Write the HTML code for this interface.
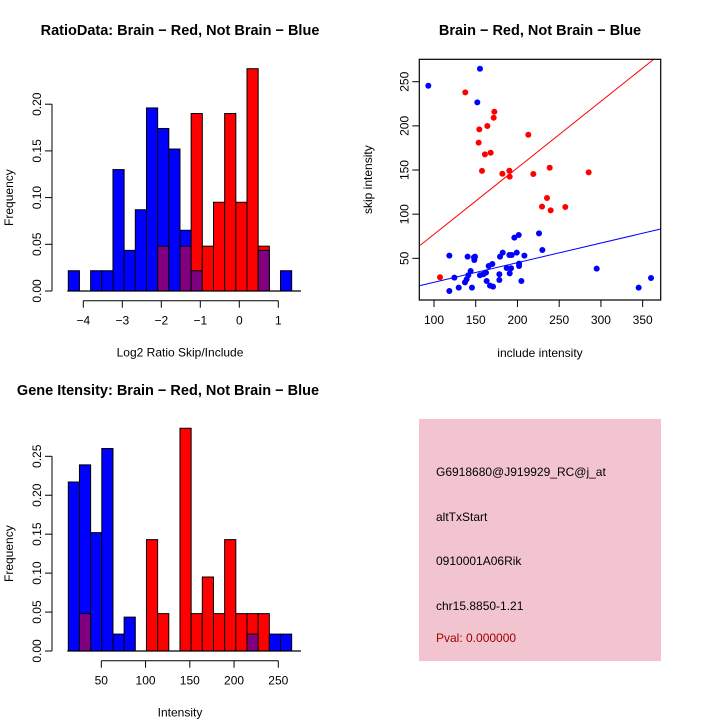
<!DOCTYPE html>
<html><head><meta charset="utf-8"><style>
html,body{margin:0;padding:0;background:#fff;}
svg{display:block;font-family:"Liberation Sans",sans-serif;}
</style></head><body>
<svg id="chart" width="720" height="720" viewBox="0 0 720 720" xmlns="http://www.w3.org/2000/svg">
<rect x="0" y="0" width="720" height="720" fill="#fff"/>
<g id="p1"></g>
<g id="p2"></g>
<g id="p3"></g>
<g id="p4">
<rect x="419" y="419" width="242" height="242" fill="#f2c4cf"/>
<text x="436" y="476" font-size="12">G6918680@J919929_RC@j_at</text>
<text x="436" y="521" font-size="12">altTxStart</text>
<text x="436" y="565" font-size="12">0910001A06Rik</text>
<text x="436" y="610" font-size="12">chr15.8850-1.21</text>
<text x="436" y="642" font-size="12" fill="#a00000">Pval: 0.000000</text>
</g>
</svg>
<script>
// Histogram 1 data
const h1Blue=[0.0217,0,0.0217,0.0217,0.13,0.0435,0.087,0.196,0.174,0.152,0.065,0.0217,0,0,0,0,0,0.0435,0,0.0217];
const h1Red=[0,0,0,0,0,0,0,0,0.048,0,0.048,0.19,0.048,0.095,0.19,0.095,0.238,0.048,0,0];
const h1XTicks=[-4,-3,-2,-1,0,1];
const h1YTicks=["0.00","0.05","0.10","0.15","0.20"];
// Histogram 2 data
const h2Blue=[0.217,0.239,0.152,0.26,0.0217,0.0435,0,0,0,0,0,0,0,0,0,0,0.0217,0,0.0217,0.0217];
const h2Red=[0,0.048,0,0,0,0,0,0.143,0.048,0,0.286,0.048,0.095,0.048,0.143,0.048,0.048,0.048,0,0];
const h2XTicks=[50,100,150,200,250];
const h2YTicks=["0.00","0.05","0.10","0.15","0.20","0.25"];
// Scatter data
const redX=[107.2,137.5,154.3,153.5,157.5,161,163.9,167.9,171.5,172.3,181.9,190.3,190.7,213,219,229.4,235.4,238.6,239.8,257.3,285.3];
const redY=[28.5,237.9,196,181,149,167.7,199.8,169.6,209.2,216,145.8,149.2,142.5,190,145.5,108.5,118.3,152.6,104.3,108.1,147.4];
const blueX=[93.2,155.1,151.9,118.4,118.4,124.4,129.6,137.1,139.1,140.3,141.1,143.9,145.5,147.9,148.3,149.1,155.1,159.1,162.3,163.1,165.5,167.1,169.9,170.7,178.3,178.3,179.1,182.3,187.1,190.3,190.7,192.3,193.1,196.3,199.1,201.5,201.9,201.9,204.7,208.3,225.8,229.8,294.9,345.2,360];
const blueY=[245.5,264.7,226.6,53,13,28.1,16.8,22.8,26.2,51.9,30.8,35.7,16.8,51.1,48.1,51.9,30.8,31.9,33.8,24.3,41.3,19.1,43.6,17.9,25.5,31.9,51.9,56.4,39.1,53.8,33,38.7,53.8,73.4,56.4,76.4,41.3,44,24.3,53,78.3,59.4,38.3,16.8,27.7];
const redFit=[1.9,0.753];
const blueFit=[0.7,0.222];
const scXTicks=[100,150,200,250,300,350];
const scYTicks=[50,100,150,200,250];

const NS="http://www.w3.org/2000/svg";
function mk(parent,tag,attrs,txt){const e=document.createElementNS(NS,tag);for(const k in attrs)e.setAttribute(k,attrs[k]);if(txt!==undefined)e.textContent=txt;parent.appendChild(e);return e;}

function hist(g,blue,red,x0,bw,xs,ys,yTicks,xTicks,title,xlab,titleX,titleY,baseY,axisY){
  const n=blue.length;
  for(let i=0;i<n;i++){
    const l=xs(x0+bw*i), r=xs(x0+bw*(i+1));
    const b=blue[i], rd=red[i];
    const hi=Math.max(b,rd), lo=Math.min(b,rd);
    if(hi>0){
      const r1=mk(g,'rect',{x:l,y:ys(hi),width:r-l,height:ys(0)-ys(hi),fill:b>=rd?'#0000ff':'#ff0000',stroke:'#000','stroke-width':1});
      
      
    }
    if(lo>0){
      const r2=mk(g,'rect',{x:l,y:ys(lo),width:r-l,height:ys(0)-ys(lo),fill:'#800080',stroke:'#000','stroke-width':1});
      
      
    }
  }
  mk(g,'line',{x1:xs(x0)-1,x2:301,y1:ys(0),y2:ys(0),stroke:'#000','stroke-width':1.3});
  const yv=yTicks.map(Number);
  const ya=mk(g,'g',{});
  
  
  mk(ya,'line',{x1:52,x2:52,y1:ys(yv[0]),y2:ys(yv[yv.length-1]),stroke:'#000'});
  yTicks.forEach((t,i)=>{const y=ys(yv[i]);mk(ya,'line',{x1:45,x2:52,y1:y,y2:y,stroke:'#000'});
    mk(ya,'text',{x:0,y:0,'font-size':12,'text-anchor':'middle',transform:`translate(41,${y}) rotate(-90)`},t);});
  const xa=mk(g,'g',{});
  
  
  mk(xa,'line',{x1:xs(xTicks[0]),x2:xs(xTicks[xTicks.length-1]),y1:axisY,y2:axisY,stroke:'#000'});
  xTicks.forEach(t=>{const x=xs(t);mk(xa,'line',{x1:x,x2:x,y1:axisY,y2:axisY+7,stroke:'#000'});
    mk(xa,'text',{x:x,y:axisY+24,'font-size':12,'text-anchor':'middle'},t<0?'\u2212'+(-t):String(t));});
  const tt=mk(g,'text',{x:titleX,y:titleY,'font-size':14.5,'font-weight':'bold','text-anchor':'middle'},title);
  
  
  const xl=mk(g,'text',{x:180,y:axisY+56,'font-size':12,'text-anchor':'middle'},xlab);
  
  
  const yl=mk(g,'text',{x:0,y:0,'font-size':12,'text-anchor':'middle',transform:`translate(13,${(ys(0)+ys(yv[yv.length-1]))/2}) rotate(-90)`},'Frequency');
  
  
}

hist(document.getElementById('p1'),h1Blue,h1Red,-4.385,0.2864,
  v=>83.3+(v+4)*39, f=>291-f*934, h1YTicks,h1XTicks,
  'RatioData: Brain \u2212 Red, Not Brain \u2212 Blue','Log2 Ratio Skip/Include',180,35,291,300.7);
hist(document.getElementById('p3'),h2Blue,h2Red,12.7,12.62,
  v=>101.3+(v-50)*0.885, f=>651-f*778.8, h2YTicks,h2XTicks,
  'Gene Itensity: Brain \u2212 Red, Not Brain \u2212 Blue','Intensity',168,395,651,660.7);

(function(){
  const g=document.getElementById('p2');
  const X0=82.4,X1=371.6,Y0=2.8,Y1=275.4,L=419.3,R=660.7,T=59.3,B=300;
  const xs=v=>L+(v-X0)/(X1-X0)*(R-L), ys=v=>B-(v-Y0)/(Y1-Y0)*(B-T);
  const cp=mk(g,'clipPath',{id:'scclip'});mk(cp,'rect',{x:L,y:T,width:R-L,height:B-T});
  const lg=mk(g,'g',{'clip-path':'url(#scclip)'});
  const rl=mk(lg,'line',{x1:xs(X0),y1:ys(redFit[0]+redFit[1]*X0),x2:xs(X1),y2:ys(redFit[0]+redFit[1]*X1),stroke:'#ff0000','stroke-width':1});
  
  
  const bl=mk(lg,'line',{x1:xs(X0),y1:ys(blueFit[0]+blueFit[1]*X0),x2:xs(X1),y2:ys(blueFit[0]+blueFit[1]*X1),stroke:'#0000ff','stroke-width':1});
  
  
  redX.forEach((x,i)=>{const c=mk(g,'circle',{cx:xs(x),cy:ys(redY[i]),r:3,fill:'#ff0000'});
    
    });
  blueX.forEach((x,i)=>{const c=mk(g,'circle',{cx:xs(x),cy:ys(blueY[i]),r:3,fill:'#0000ff'});
    
    });
  const fr=mk(g,'rect',{x:L,y:T,width:R-L,height:B-T,fill:'none',stroke:'#000','stroke-width':1.2});
  
  
  scXTicks.forEach(t=>{const x=xs(t);mk(g,'line',{x1:x,x2:x,y1:B,y2:B+7,stroke:'#000'});
    mk(g,'text',{x:x,y:B+24,'font-size':12,'text-anchor':'middle'},String(t));});
  scYTicks.forEach(t=>{const y=ys(t);mk(g,'line',{x1:L-7,x2:L,y1:y,y2:y,stroke:'#000'});
    mk(g,'text',{x:0,y:0,'font-size':12,'text-anchor':'middle',transform:`translate(${L-11},${y}) rotate(-90)`},String(t));});
  const tt=mk(g,'text',{x:540,y:35,'font-size':14.5,'font-weight':'bold','text-anchor':'middle'},'Brain \u2212 Red, Not Brain \u2212 Blue');
  
  
  const xl=mk(g,'text',{x:540,y:357,'font-size':12,'text-anchor':'middle'},'include intensity');
  
  
  const yl=mk(g,'text',{x:0,y:0,'font-size':12,'text-anchor':'middle',transform:`translate(372,${(T+B)/2}) rotate(-90)`},'skip intensity');
  
  
})();
</script>
</body></html>
